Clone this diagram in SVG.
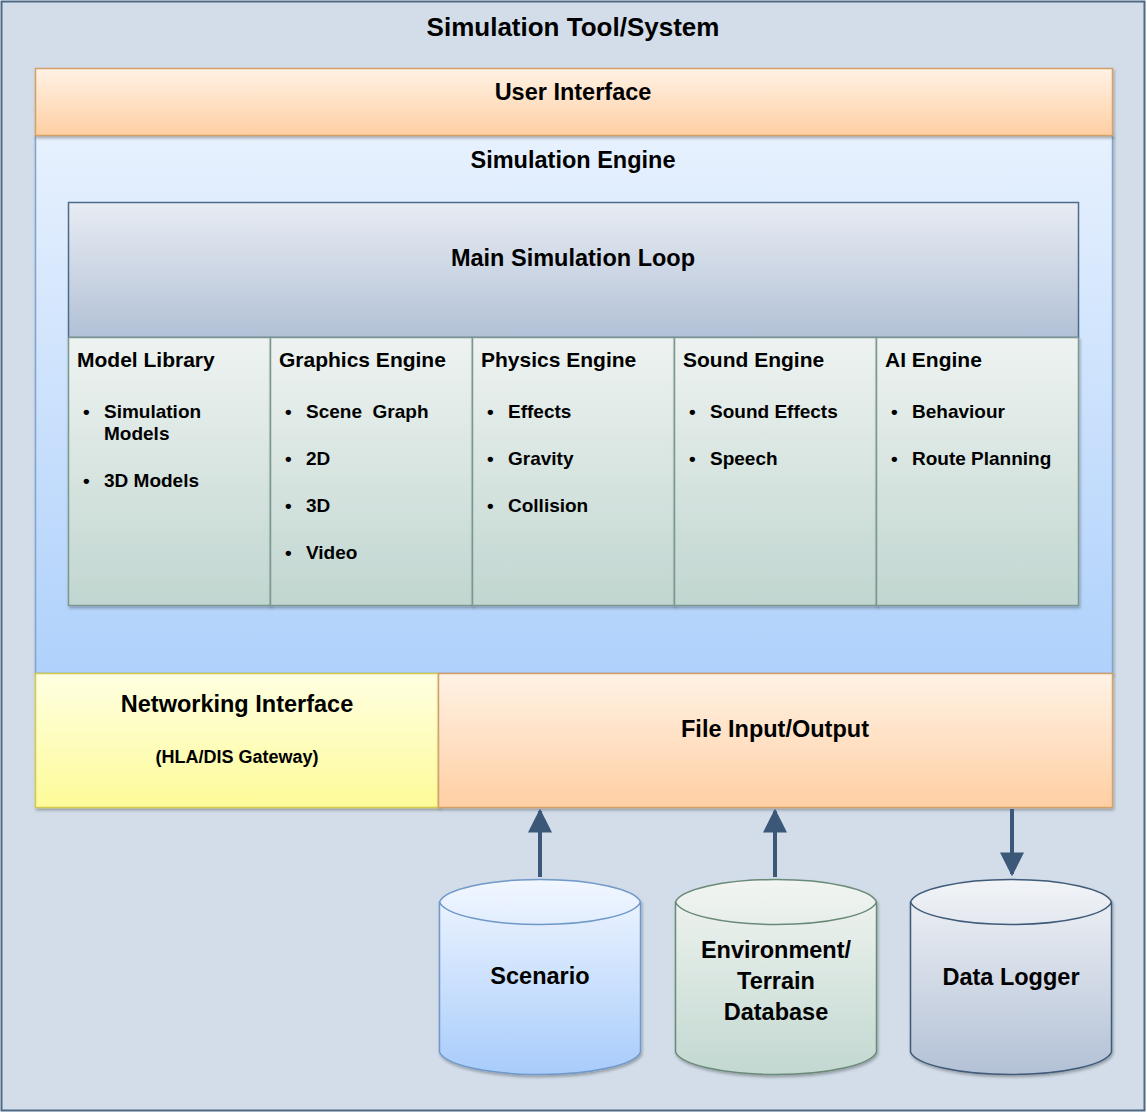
<svg xmlns="http://www.w3.org/2000/svg" width="1147" height="1113" viewBox="0 0 1147 1113">
<style>
text{font-family:"Liberation Sans",Arial,sans-serif;font-weight:bold;fill:#000}
.title{font-size:26px;text-anchor:middle}
.h{font-size:23.5px;text-anchor:middle}
.col{font-size:21px}
.item{font-size:19px}
.small{font-size:18px;text-anchor:middle}
.conn{stroke:#3b5878;stroke-width:4;fill:none}
</style>
<defs>
<linearGradient id="gOrange" x1="0" y1="0" x2="0" y2="1"><stop offset="0" stop-color="#fff2e5"/><stop offset="1" stop-color="#ffcfa3"/></linearGradient>
<linearGradient id="gEngine" x1="0" y1="0" x2="0" y2="1"><stop offset="0" stop-color="#e7f1fe"/><stop offset="1" stop-color="#afd1fb"/></linearGradient>
<linearGradient id="gLoop" x1="0" y1="0" x2="0" y2="1"><stop offset="0" stop-color="#e8ecf3"/><stop offset="1" stop-color="#b2c1d6"/></linearGradient>
<linearGradient id="gCol" x1="0" y1="0" x2="0" y2="1"><stop offset="0" stop-color="#eef3f1"/><stop offset="1" stop-color="#c1d6d0"/></linearGradient>
<linearGradient id="gYellow" x1="0" y1="0" x2="0" y2="1"><stop offset="0" stop-color="#ffffe2"/><stop offset="1" stop-color="#fdfb98"/></linearGradient>
<linearGradient id="gScen" x1="0" y1="0" x2="0" y2="1"><stop offset="0" stop-color="#f2f7ff"/><stop offset="1" stop-color="#a8ccfb"/></linearGradient>
<linearGradient id="gEnv" x1="0" y1="0" x2="0" y2="1"><stop offset="0" stop-color="#f2f5f2"/><stop offset="1" stop-color="#c2d8d0"/></linearGradient>
<linearGradient id="gLog" x1="0" y1="0" x2="0" y2="1"><stop offset="0" stop-color="#f2f4f7"/><stop offset="1" stop-color="#b3c1d6"/></linearGradient>
<filter id="shadow" x="-5%" y="-5%" width="110%" height="115%">
<feDropShadow dx="1" dy="2" stdDeviation="1.5" flood-color="#000" flood-opacity="0.3"/>
</filter>
<marker id="arrow" viewBox="0 0 10 10" refX="9" refY="5" markerWidth="6" markerHeight="6" markerUnits="strokeWidth" orient="auto">
<path d="M0,0 L10,5 L0,10 z" fill="#3b5878"/>
</marker>
</defs>

<!-- outer system frame -->
<g id="system">
<rect x="1.5" y="1.5" width="1143" height="1109" fill="#d2dde9" stroke="#4d6884" stroke-width="2"/>
<text class="title" x="573" y="36">Simulation Tool/System</text>
</g>

<g id="simulation-engine">
<rect x="35.5" y="135.5" width="1077" height="538" fill="url(#gEngine)" stroke="#7ea4cf" stroke-width="1.5" filter="url(#shadow)"/>
<text class="h" x="573" y="168">Simulation Engine</text>
</g>

<g id="user-interface">
<rect x="35.5" y="68.5" width="1077" height="67" fill="url(#gOrange)" stroke="#d2a068" stroke-width="1.5" filter="url(#shadow)"/>
<text class="h" x="573" y="100">User Interface</text>
</g>

<g id="main-loop">
<rect x="68.5" y="202.5" width="1010" height="135" fill="url(#gLoop)" stroke="#4d6a8a" stroke-width="1.5"/>
<text class="h" x="573" y="266">Main Simulation Loop</text>
</g>

<g id="model-library">
<rect x="68.5" y="337.5" width="202" height="268" fill="url(#gCol)" stroke="#7b9691" stroke-width="1.5" filter="url(#shadow)"/>
<text class="col" x="77" y="367">Model Library</text>
<text class="item" x="83" y="418">•</text><text class="item" x="104" y="418">Simulation</text>
<text class="item" x="104" y="440">Models</text>
<text class="item" x="83" y="487">•</text><text class="item" x="104" y="487">3D Models</text>
</g>

<g id="graphics-engine">
<rect x="270.5" y="337.5" width="202" height="268" fill="url(#gCol)" stroke="#7b9691" stroke-width="1.5" filter="url(#shadow)"/>
<text class="col" x="279" y="367">Graphics Engine</text>
<text class="item" x="285" y="418">•</text><text class="item" x="306" y="418" xml:space="preserve">Scene  Graph</text>
<text class="item" x="285" y="465">•</text><text class="item" x="306" y="465">2D</text>
<text class="item" x="285" y="512">•</text><text class="item" x="306" y="512">3D</text>
<text class="item" x="285" y="559">•</text><text class="item" x="306" y="559">Video</text>
</g>

<g id="physics-engine">
<rect x="472.5" y="337.5" width="202" height="268" fill="url(#gCol)" stroke="#7b9691" stroke-width="1.5" filter="url(#shadow)"/>
<text class="col" x="481" y="367">Physics Engine</text>
<text class="item" x="487" y="418">•</text><text class="item" x="508" y="418">Effects</text>
<text class="item" x="487" y="465">•</text><text class="item" x="508" y="465">Gravity</text>
<text class="item" x="487" y="512">•</text><text class="item" x="508" y="512">Collision</text>
</g>

<g id="sound-engine">
<rect x="674.5" y="337.5" width="202" height="268" fill="url(#gCol)" stroke="#7b9691" stroke-width="1.5" filter="url(#shadow)"/>
<text class="col" x="683" y="367">Sound Engine</text>
<text class="item" x="689" y="418">•</text><text class="item" x="710" y="418">Sound Effects</text>
<text class="item" x="689" y="465">•</text><text class="item" x="710" y="465">Speech</text>
</g>

<g id="ai-engine">
<rect x="876.5" y="337.5" width="202" height="268" fill="url(#gCol)" stroke="#7b9691" stroke-width="1.5" filter="url(#shadow)"/>
<text class="col" x="885" y="367">AI Engine</text>
<text class="item" x="891" y="418">•</text><text class="item" x="912" y="418">Behaviour</text>
<text class="item" x="891" y="465">•</text><text class="item" x="912" y="465">Route Planning</text>
</g>

<g id="networking-interface">
<rect x="35.5" y="673.5" width="403" height="134" fill="url(#gYellow)" stroke="#d2c950" stroke-width="1.5" filter="url(#shadow)"/>
<text class="h" x="237" y="712">Networking Interface</text>
<text class="small" x="237" y="763">(HLA/DIS Gateway)</text>
</g>

<g id="file-io">
<rect x="438.5" y="673.5" width="674" height="134" fill="url(#gOrange)" stroke="#d2a068" stroke-width="1.5" filter="url(#shadow)"/>
<text class="h" x="775" y="737">File Input/Output</text>
</g>

<g id="connectors">
<line class="conn" x1="540" y1="877" x2="540" y2="811" marker-end="url(#arrow)"/>
<line class="conn" x1="775" y1="877" x2="775" y2="811" marker-end="url(#arrow)"/>
<line class="conn" x1="1012" y1="809" x2="1012" y2="874" marker-end="url(#arrow)"/>
</g>

<g id="scenario">
<path d="M439.5,902 A101,25 0 0 1 640.5,902 L640.5,1052 A101,25 0 0 1 439.5,1052 Z" fill="url(#gScen)" stroke="#6f98c8" stroke-width="1.5" filter="url(#shadow)"/>
<path d="M439.5,902 A101,25 0 0 0 640.5,902" fill="none" stroke="#6f98c8" stroke-width="1.5"/>
<text class="h" x="540" y="984">Scenario</text>
</g>

<g id="environment-db">
<path d="M675.5,902 A101,25 0 0 1 876.5,902 L876.5,1052 A101,25 0 0 1 675.5,1052 Z" fill="url(#gEnv)" stroke="#6a8a78" stroke-width="1.5" filter="url(#shadow)"/>
<path d="M675.5,902 A101,25 0 0 0 876.5,902" fill="none" stroke="#6a8a78" stroke-width="1.5"/>
<text class="h" x="776" y="958">Environment/</text>
<text class="h" x="776" y="989">Terrain</text>
<text class="h" x="776" y="1020">Database</text>
</g>

<g id="data-logger">
<path d="M910.5,902 A101,25 0 0 1 1111.5,902 L1111.5,1052 A101,25 0 0 1 910.5,1052 Z" fill="url(#gLog)" stroke="#3f5a79" stroke-width="1.5" filter="url(#shadow)"/>
<path d="M910.5,902 A101,25 0 0 0 1111.5,902" fill="none" stroke="#3f5a79" stroke-width="1.5"/>
<text class="h" x="1011" y="985">Data Logger</text>
</g>
</svg>
